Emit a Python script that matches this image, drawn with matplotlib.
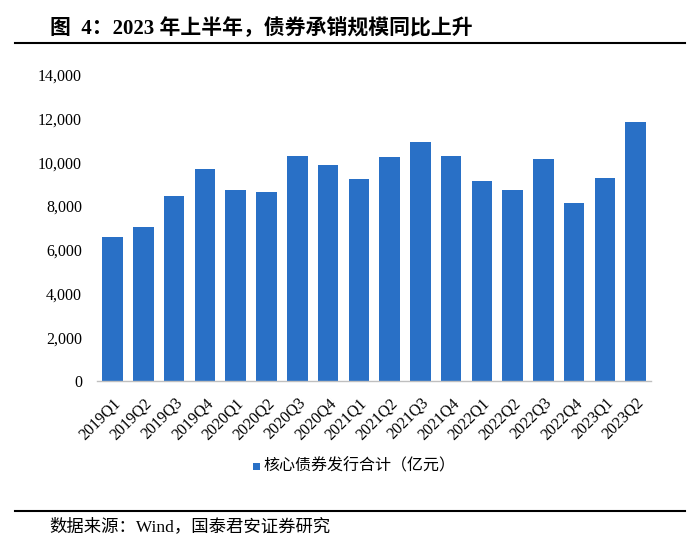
import matplotlib.pyplot as plt
from matplotlib.lines import Line2D
from matplotlib.patches import Rectangle

quarters = ["2019Q1", "2019Q2", "2019Q3", "2019Q4", "2020Q1", "2020Q2",
            "2020Q3", "2020Q4", "2021Q1", "2021Q2", "2021Q3", "2021Q4",
            "2022Q1", "2022Q2", "2022Q3", "2022Q4", "2023Q1", "2023Q2"]
issuance = [6590, 7030, 8450, 9680, 8720, 8660, 10310, 9880, 9230,
            10250, 10920, 10280, 9150, 8740, 10140, 8130, 9270, 11830]

series_name = "核心债券发行合计（亿元）"
title = "图  4：2023 年上半年，债券承销规模同比上升"
source = "数据来源：Wind，国泰君安证券研究"

serif = ["Liberation Serif", "Noto Sans CJK SC"]
bar_color = "#2970C6"

fig = plt.figure(figsize=(7, 5.55), dpi=100)
ax = fig.add_axes([0.139, 0.3135, 0.791, 0.5515])

x = range(len(quarters))
ax.bar(x, issuance, width=0.667, color=bar_color, zorder=2)

ax.set_xlim(-0.5, len(quarters) - 0.5)
ax.set_ylim(0, 14000)
ax.set_yticks(range(0, 14001, 2000))
ax.set_yticklabels([f"{v:,}" for v in range(0, 14001, 2000)],
                   fontfamily=serif, fontsize=11.5)
ax.set_xticks(list(x))
ax.set_xticklabels(quarters, rotation=45, ha="right", rotation_mode="anchor",
                   fontfamily=serif, fontsize=11.5)
ax.tick_params(axis="y", length=0, pad=11)
ax.tick_params(axis="x", length=0, pad=10)

for side in ["top", "right", "left"]:
    ax.spines[side].set_visible(False)
ax.spines["bottom"].set_color("#BFBFBF")
ax.spines["bottom"].set_linewidth(1)

# legend
fig.patches.append(Rectangle((0.3615, 0.154), 0.0105, 0.0125, transform=fig.transFigure,
                             facecolor=bar_color, edgecolor="none"))
fig.text(0.377, 0.160, series_name, fontfamily=serif, fontsize=11.5, va="center", ha="left")

# title and rules
fig.text(0.071, 0.948, title, fontfamily=serif, fontsize=15, fontweight="bold",
         va="center", ha="left")
fig.lines.append(Line2D([0.0214, 0.979], [0.922, 0.922], transform=fig.transFigure,
                        color="black", linewidth=1.5))
fig.lines.append(Line2D([0.0214, 0.979], [0.0793, 0.0793], transform=fig.transFigure,
                        color="black", linewidth=1.5))
fig.text(0.07, 0.051, source, fontfamily=serif, fontsize=12.5, va="center", ha="left")

fig.savefig("out.png", dpi=100)
